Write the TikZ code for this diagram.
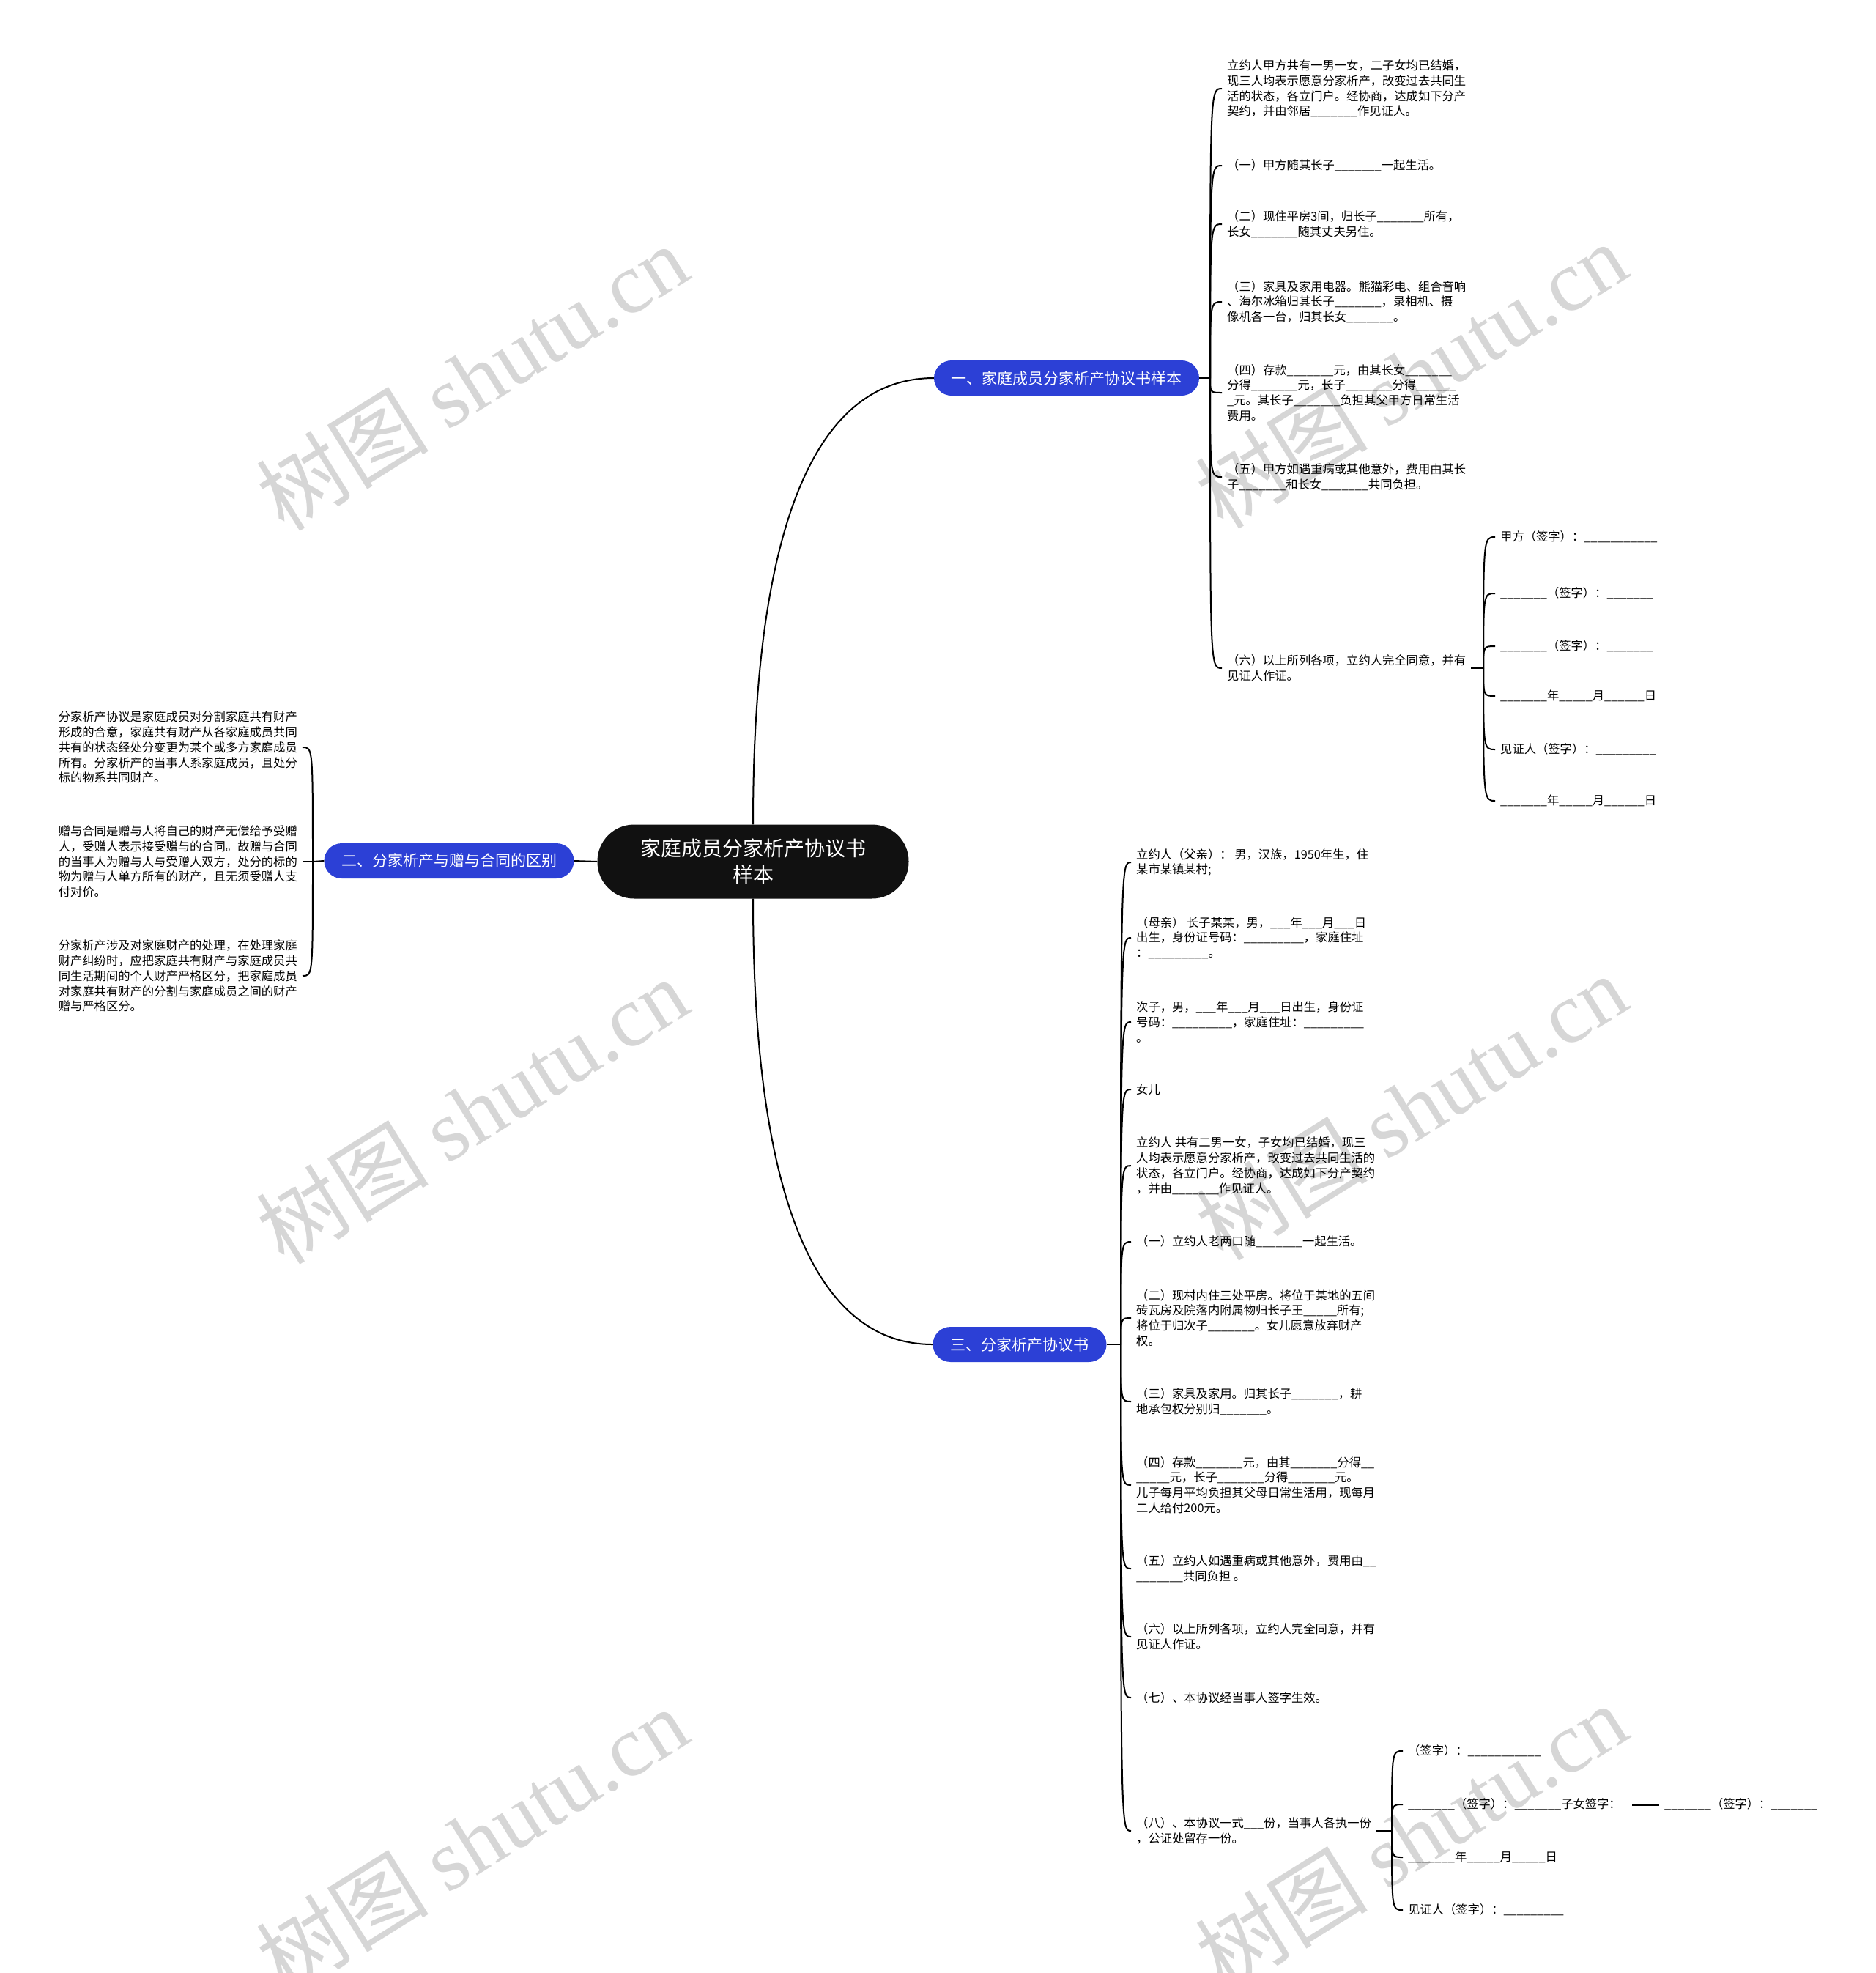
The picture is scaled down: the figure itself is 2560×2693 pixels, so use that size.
\documentclass[tikz,border=0pt]{standalone}
\usepackage{fontspec}
\setmainfont{Noto Sans CJK SC}
\newfontfamily\wmlatin{Liberation Serif}
\definecolor{topicblue}{RGB}{44,64,214}
\definecolor{rootblack}{RGB}{17,17,17}
\newcommand{\fillblank}[1]{\foreach\k in {1,...,#1}{\_}}
\newcommand{\leaffont}{\fontsize{16.3}{20.8}\selectfont}

\begin{document}
\begin{tikzpicture}[
    x=1pt, y=-1pt,
    root/.style={fill=rootblack, text=white, rounded corners=50pt, minimum width=425pt,
      minimum height=101pt, inner sep=0pt, align=center, font=\fontsize{28}{36}\selectfont},
    topic/.style={fill=topicblue, text=white, rounded corners=24pt, minimum height=48pt,
      inner sep=0pt, font=\fontsize{21}{26}\selectfont},
    leaf/.style={font=\leaffont, align=left, inner ysep=0pt, inner xsep=7pt},
    link/.style={line width=2pt},
    wm/.style={text=black!16, rotate=32, font=\fontsize{118}{118}\selectfont}
  ]
  \path[use as bounding box, fill=white] (0,0) rectangle (2560,2693);
  \node[wm] (w1) at (644,515) {树图 {\wmlatin shutu.cn}};
  \node[wm] (w2) at (1926,512) {树图 {\wmlatin shutu.cn}};
  \node[wm] (w3) at (644,1516) {树图 {\wmlatin shutu.cn}};
  \node[wm] (w4) at (1926,1511) {树图 {\wmlatin shutu.cn}};
  \node[wm] (w5) at (644,2512) {树图 {\wmlatin shutu.cn}};
  \node[wm] (w6) at (1926,2507) {树图 {\wmlatin shutu.cn}};

  \node[root] (root) at (1028,1176) {家庭成员分家析产协议书\\样本};
  \node[topic, minimum width=362pt] (t1) at (1456,516) {一、家庭成员分家析产协议书样本};
  \node[topic, minimum width=341pt] (t2) at (613,1175) {二、分家析产与赠与合同的区别};
  \node[topic, minimum width=237pt] (t3) at (1392,1835) {三、分家析产协议书};
  \draw[link] (root.north) .. controls (1028,750) and (1100,516) .. (t1.west);
  \draw[link] (root.south) .. controls (1028,1601) and (1100,1835) .. (t3.west);
  \draw[link] (root.west) -- (t2.east);

  \node[leaf, anchor=west] (a1) at (1668,121) {立约人甲方共有一男一女，二子女均已结婚，\\现三人均表示愿意分家析产，改变过去共同生\\活的状态，各立门户。经协商，达成如下分产\\契约，并由邻居\fillblank{7}作见证人。};
  \node[leaf, anchor=west] (a2) at (1668,226) {（一）甲方随其长子\fillblank{7}一起生活。};
  \node[leaf, anchor=west] (a3) at (1668,306) {（二）现住平房3间，归长子\fillblank{7}所有，\\长女\fillblank{7}随其丈夫另住。};
  \node[leaf, anchor=west] (a4) at (1668,412) {（三）家具及家用电器。熊猫彩电、组合音响\\、海尔冰箱归其长子\fillblank{7}，录相机、摄\\像机各一台，归其长女\fillblank{7}。};
  \node[leaf, anchor=west] (a5) at (1668,536) {（四）存款\fillblank{7}元，由其长女\fillblank{7}\\分得\fillblank{7}元，长子\fillblank{7}分得\fillblank{6}\\\_元。其长子\fillblank{7}负担其父甲方日常生活\\费用。};
  \node[leaf, anchor=west] (a6) at (1668,651) {（五）甲方如遇重病或其他意外，费用由其长\\子\fillblank{7}和长女\fillblank{7}共同负担。};
  \node[leaf, anchor=west] (a7) at (1668,912) {（六）以上所列各项，立约人完全同意，并有\\见证人作证。};
  \coordinate (j1) at (1652,516);
  \draw[link] (t1.east) -- (j1);
  \foreach \i in {1,...,7}
    \draw[link] (j1) .. controls (j1 |- a\i.west) .. (a\i.west);

  \node[leaf, anchor=west] (s1) at (2041,733) {甲方（签字）：\fillblank{11}};
  \node[leaf, anchor=west] (s2) at (2041,810) {\fillblank{7}（签字）：\fillblank{7}};
  \node[leaf, anchor=west] (s3) at (2041,882) {\fillblank{7}（签字）：\fillblank{7}};
  \node[leaf, anchor=west] (s4) at (2041,950) {\fillblank{7}年\fillblank{5}月\fillblank{6}日};
  \node[leaf, anchor=west] (s5) at (2041,1023) {见证人（签字）：\fillblank{9}};
  \node[leaf, anchor=west] (s6) at (2041,1093) {\fillblank{7}年\fillblank{5}月\fillblank{6}日};
  \coordinate (k1) at (2025,912);
  \draw[link] (a7.east) -- (k1);
  \foreach \i in {1,...,6}
    \draw[link] (k1) .. controls (k1 |- s\i.west) .. (s\i.west);

  \node[leaf, anchor=east] (b1) at (413,1020) {分家析产协议是家庭成员对分割家庭共有财产\\形成的合意，家庭共有财产从各家庭成员共同\\共有的状态经处分变更为某个或多方家庭成员\\所有。分家析产的当事人系家庭成员，且处分\\标的物系共同财产。};
  \node[leaf, anchor=east] (b2) at (413,1176) {赠与合同是赠与人将自己的财产无偿给予受赠\\人，受赠人表示接受赠与的合同。故赠与合同\\的当事人为赠与人与受赠人双方，处分的标的\\物为赠与人单方所有的财产，且无须受赠人支\\付对价。};
  \node[leaf, anchor=east] (b3) at (413,1332) {分家析产涉及对家庭财产的处理，在处理家庭\\财产纠纷时，应把家庭共有财产与家庭成员共\\同生活期间的个人财产严格区分，把家庭成员\\对家庭共有财产的分割与家庭成员之间的财产\\赠与严格区分。};
  \coordinate (j2) at (427,1176);
  \draw[link] (t2.west) -- (j2);
  \foreach \i in {1,...,3}
    \draw[link] (j2) .. controls (j2 |- b\i.east) .. (b\i.east);

  \node[leaf, anchor=west] (c1) at (1544,1177) {立约人（父亲）： 男，汉族，1950年生，住\\某市某镇某村;};
  \node[leaf, anchor=west] (c2) at (1544,1280) {（母亲） 长子某某，男，\fillblank{3}年\fillblank{3}月\fillblank{3}日\\出生，身份证号码：\fillblank{9}，家庭住址\\：\fillblank{9}。};
  \node[leaf, anchor=west] (c3) at (1544,1395) {次子，男，\fillblank{3}年\fillblank{3}月\fillblank{3}日出生，身份证\\号码：\fillblank{9}，家庭住址：\fillblank{9}\\。};
  \node[leaf, anchor=west] (c4) at (1544,1487) {女儿};
  \node[leaf, anchor=west] (c5) at (1544,1591) {立约人 共有二男一女，子女均已结婚，现三\\人均表示愿意分家析产，改变过去共同生活的\\状态，各立门户。经协商，达成如下分产契约\\，并由\fillblank{7}作见证人。};
  \node[leaf, anchor=west] (c6) at (1544,1695) {（一）立约人老两口随\fillblank{7}一起生活。};
  \node[leaf, anchor=west] (c7) at (1544,1799) {（二）现村内住三处平房。将位于某地的五间\\砖瓦房及院落内附属物归长子王\fillblank{5}所有;\\将位于归次子\fillblank{7}。女儿愿意放弃财产\\权。};
  \node[leaf, anchor=west] (c8) at (1544,1913) {（三）家具及家用。归其长子\fillblank{7}，耕\\地承包权分别归\fillblank{7}。};
  \node[leaf, anchor=west] (c9) at (1544,2027) {（四）存款\fillblank{7}元，由其\fillblank{7}分得\fillblank{2}\\\fillblank{5}元，长子\fillblank{7}分得\fillblank{7}元。\\儿子每月平均负担其父母日常生活用，现每月\\二人给付200元。};
  \node[leaf, anchor=west] (c10) at (1544,2141) {（五）立约人如遇重病或其他意外，费用由\fillblank{2}\\\fillblank{7}共同负担 。};
  \node[leaf, anchor=west] (c11) at (1544,2234) {（六）以上所列各项，立约人完全同意，并有\\见证人作证。};
  \node[leaf, anchor=west] (c12) at (1544,2317) {（七）、本协议经当事人签字生效。};
  \node[leaf, anchor=west] (c13) at (1544,2499) {（八）、本协议一式\fillblank{3}份，当事人各执一份\\，公证处留存一份。};
  \coordinate (j3) at (1530,1835);
  \draw[link] (t3.east) -- (j3);
  \foreach \i in {1,...,13}
    \draw[link] (j3) .. controls (j3 |- c\i.west) .. (c\i.west);

  \node[leaf, anchor=west] (d1) at (1915,2390) {（签字）：\fillblank{11}};
  \node[leaf, anchor=west] (d2) at (1915,2463) {\fillblank{7}（签字）：\fillblank{7}子女签字：};
  \node[leaf, anchor=west] (d3) at (1915,2535) {\fillblank{7}年\fillblank{5}月\fillblank{5}日};
  \node[leaf, anchor=west] (d4) at (1915,2607) {见证人（签字）：\fillblank{9}};
  \node[leaf, anchor=west] (e1) at (2265,2463) {\fillblank{7}（签字）：\fillblank{7}};
  \coordinate (k3) at (1900,2499);
  \draw[link] (c13.east) -- (k3);
  \foreach \i in {1,...,4}
    \draw[link] (k3) .. controls (k3 |- d\i.west) .. (d\i.west);
  \draw[line width=3pt] ([xshift=8pt]d2.east) -- (e1.west);
\end{tikzpicture}
\end{document}
